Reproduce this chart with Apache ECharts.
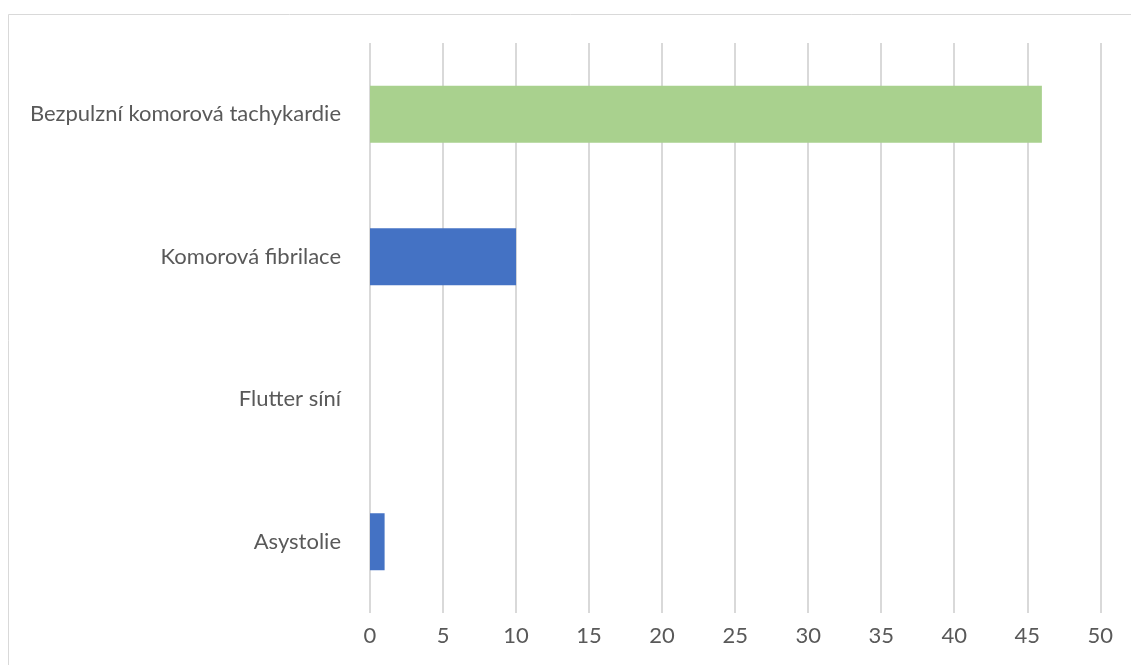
<!DOCTYPE html>
<html>
<head>
<meta charset="utf-8">
<script src="https://cdn.jsdelivr.net/npm/echarts@6/dist/echarts.min.js"></script>
<style>
html,body{margin:0;padding:0;background:#fff;}
#chart{width:1131px;height:665px;}
</style>
</head>
<body>
<div id="chart"></div>
<script>
const categories = ["Bezpulzní komorová tachykardie", "Komorová fibrilace", "Flutter síní", "Asystolie"];
const values = [46, 10, 0, 1];
const barColors = ["#A9D18E", "#4472C4", "#4472C4", "#4472C4"];
const xTicks = { min: 0, max: 50, interval: 5 };

const chart = echarts.init(document.getElementById('chart'), null, { renderer: 'canvas' });
const font = 'Lato, "Liberation Sans", sans-serif';
chart.setOption({
  animation: false,
  backgroundColor: '#ffffff',
  graphic: [{
    type: 'rect',
    shape: { x: 8.5, y: 14.5, width: 1140, height: 700 },
    style: { fill: 'none', stroke: '#D9D9D9', lineWidth: 1 },
    silent: true, z: -1
  }],
  grid: { left: 370, right: 30.7, top: 43, bottom: 52, containLabel: false },
  xAxis: {
    type: 'value',
    min: xTicks.min, max: xTicks.max, interval: xTicks.interval,
    axisLine: { show: false },
    axisTick: { show: false },
    splitLine: { show: true, lineStyle: { color: '#D9D9D9', width: 2 } },
    axisLabel: { color: '#595959', fontSize: 22, fontFamily: font, margin: 12 }
  },
  yAxis: {
    type: 'category',
    data: categories,
    inverse: true,
    axisLine: { show: false },
    axisTick: { show: false },
    splitLine: { show: false },
    axisLabel: { color: '#595959', fontSize: 22, fontFamily: font, margin: 29 }
  },
  series: [{
    type: 'bar',
    barWidth: '40%',
    data: values.map((v, i) => ({ value: v, itemStyle: { color: barColors[i] } }))
  }]
});
</script>
</body>
</html>
